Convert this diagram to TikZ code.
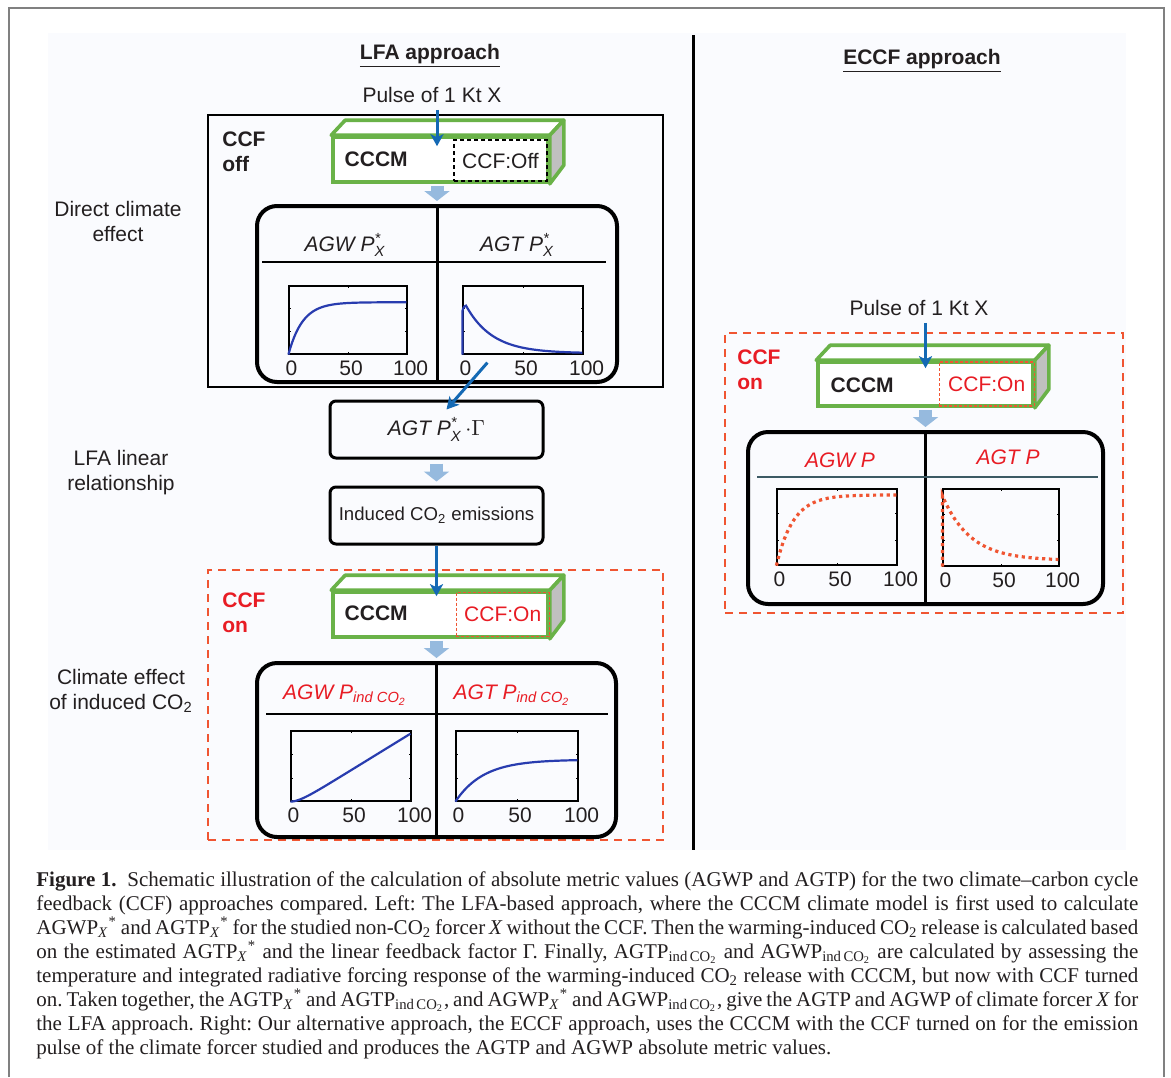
\documentclass[tikz,border=0pt]{standalone}
\usepackage{fontspec}
\setmainfont{Liberation Sans}
\newfontfamily\capfont{Liberation Serif}
\usepackage{amsmath}
\usetikzlibrary{shapes,arrows,arrows.meta,calc}

\definecolor{cccmgreen}{RGB}{106,178,72}
\definecolor{pulseblue}{RGB}{20,105,180}
\definecolor{flowblue}{RGB}{150,186,222}
\definecolor{ccfred}{RGB}{232,28,36}
\definecolor{dashred}{RGB}{240,85,50}
\definecolor{curveblue}{RGB}{40,60,175}
\definecolor{sidegray}{RGB}{192,192,192}
\definecolor{framegray}{RGB}{128,128,128}
\definecolor{bgpanel}{RGB}{250,251,254}
\definecolor{txt}{RGB}{35,31,32}
\definecolor{slate}{RGB}{60,90,100}

\tikzstyle{line} = [draw, pulseblue, line width=1.5pt, -{Stealth[length=6pt,width=6.5pt,inset=1.5pt]}]
\tikzstyle{flow} = [draw, flowblue, line width=6.5pt, -{Triangle[length=5pt,width=12.5pt]}]
\tikzstyle{cccm} = [rectangle, draw=cccmgreen, line width=1.8pt, fill=white, minimum width=107.5pt, minimum height=22.5pt, inner sep=0pt]
\tikzstyle{cccmtop} = [draw=cccmgreen, line width=1.8pt, fill=white, line join=round]
\tikzstyle{cccmside} = [draw=cccmgreen, line width=1.8pt, fill=sidegray, line join=round]
\tikzstyle{cccmtxt} = [font=\fontsize{10.5}{12.5}\selectfont\bfseries]
\tikzstyle{ccfoff} = [rectangle, draw, dash pattern=on 2pt off 1.5pt, line width=0.8pt, minimum width=46.5pt, minimum height=20.5pt, anchor=east]
\tikzstyle{ccfon} = [rectangle, draw=dashred, dash pattern=on 1.5pt off 1pt, line width=0.6pt, minimum width=46.5pt, minimum height=22pt, text=ccfred, anchor=east]
\tikzstyle{plots} = [rectangle, draw, line width=2pt, rounded corners=10pt, minimum width=180pt, minimum height=88pt]
\tikzstyle{frame} = [rectangle, draw, line width=0.6pt, minimum width=60pt, minimum height=34pt, inner sep=0pt]
\tikzstyle{stepbox} = [rectangle, draw, line width=1.5pt, rounded corners=3pt, minimum width=106.5pt, minimum height=28.5pt]
\tikzstyle{dashbox} = [rectangle, draw=dashred, line width=1.2pt, dash pattern=on 4pt off 3pt]
\tikzstyle{ccflbl} = [font=\fontsize{10.5}{12.5}\selectfont\bfseries, align=left, inner sep=0pt, anchor=west]
\tikzstyle{sidelbl} = [align=center]
\tikzstyle{title} = [font=\fontsize{10.5}{12.5}\selectfont\bfseries]
\tikzstyle{ptitle} = [font=\fontsize{10.5}{12.5}\selectfont\itshape]
\tikzstyle{tick} = [inner sep=0pt]
\tikzstyle{curve} = [curveblue, line width=1.1pt]
\tikzstyle{dotcurve} = [dashred, line width=1.6pt, dash pattern=on 1.6pt off 1.8pt]
\tikzstyle{caption} = [anchor=north west, text width=551pt, align=justify, inner sep=0pt, font=\capfont\fontsize{10.5}{12}\selectfont]

\begin{document}
\begin{tikzpicture}[x=0.5pt, y=-0.5pt, every node/.style={font=\fontsize{10.5}{12.5}\selectfont, text=txt}]
\useasboundingbox (0,0) rectangle (1171,1077);
\fill[bgpanel] (48,33) rectangle (1126,850);
\draw[framegray, line width=1.2pt] (9,1077) -- (9,8) -- (1164,8) -- (1164,1077);

\coordinate (divtop) at (693,35);
\coordinate (divbot) at (693,850);
\draw[line width=1.5pt] (divtop) -- (divbot);

\node[title] (lfa) at (430,56) {\underline{LFA approach}};
\node[title] (eccf) at (922,61) {\underline{ECCF approach}};

\node[sidelbl] (direct) at (118,221) {Direct climate\\effect};
\node[sidelbl] (linear) at (121,473) {LFA linear\\relationship};
\node[sidelbl] (indirect) at (121,691) {Climate effect\\of induced CO\textsubscript{2}};

\node (pulseA) at (432,95) {Pulse of 1 Kt X};
\node[rectangle, draw, line width=1pt, minimum width=227.5pt, minimum height=136pt] (offbox) at (435.5,251) {};
\node[ccflbl] (offlbl) at (222,152) {CCF\\off};
\node[cccm] (cccmA) at (440.5,159.5) {};
\draw[cccmtop] (cccmA.north west) -- ++(14,-15) -- ($(cccmA.north east)+(14,-15)$) -- (cccmA.north east) -- cycle;
\draw[cccmside] (cccmA.north east) -- ++(14,-15) -- ++(0,45) -- (cccmA.south east) -- cycle;
\node[cccmtxt] (cccmAtxt) at ($(cccmA.west)+(45,0)$) {CCCM};
\node[ccfoff] (ccfA) at ($(cccmA.east)+(-2,1)$) {CCF:Off};

\node[plots] (plotsA) at (437,294) {};
\draw[line width=1.5pt] (plotsA.north) -- (plotsA.south);
\draw[line width=0.7pt] ($(plotsA.north west)+(7,58)$) -- ($(plotsA.north east)+(-13,58)$);
\node[ptitle] (agwpAt) at (345,245) {AGW P$^{\textit{*}}_{\textit{X}}$};
\node[ptitle] (agtpAt) at (517,245) {AGT P$^{\textit{*}}_{\textit{X}}$};
\node[frame, minimum width=59pt] (agwpA) at (348,320) {};
\node[frame] (agtpA) at (523,320) {};

\node[stepbox] (gamma) at (436.5,429.5) {\itshape AGT P$^{\textit{*}}_{\textit{X}}\,{\cdot}\Gamma$};
\node[stepbox, below of=gamma, node distance=43pt] (induced) {\fontsize{9.3}{11}\selectfont Induced CO\textsubscript{2} emissions};

\node[dashbox, minimum width=227.5pt, minimum height=135pt] (onboxB) at (435.5,705) {};
\node[ccflbl, text=ccfred] (onlblB) at (222,613) {CCF\\on};
\node[cccm] (cccmB) at (440.5,614.5) {};
\draw[cccmtop] (cccmB.north west) -- ++(14,-15) -- ($(cccmB.north east)+(14,-15)$) -- (cccmB.north east) -- cycle;
\draw[cccmside] (cccmB.north east) -- ++(14,-15) -- ++(0,45) -- (cccmB.south east) -- cycle;
\node[cccmtxt] (cccmBtxt) at ($(cccmB.west)+(45,-1)$) {CCCM};
\node[ccfon] (ccfB) at (cccmB.east) {CCF:On};

\node[plots, minimum width=179.5pt, minimum height=87pt] (plotsB) at (436.5,750) {};
\draw[line width=1.5pt] (plotsB.north) -- (plotsB.south);
\draw[line width=0.7pt] ($(plotsB.north west)+(11,53)$) -- ($(plotsB.north east)+(-10,53)$);
\node[ptitle, text=ccfred] (agwpBt) at (345,695) {AGW P$_{\textit{ind CO}_{\textit{2}}}$};
\node[ptitle, text=ccfred] (agtpBt) at (512,695) {AGT P$_{\textit{ind CO}_{\textit{2}}}$};
\node[frame, minimum height=35pt] (agwpB) at (351,766) {};
\node[frame, minimum width=61pt, minimum height=35pt] (agtpB) at (517,766) {};

\node (pulseC) at (919,308) {Pulse of 1 Kt X};
\node[dashbox, minimum width=199pt, minimum height=140pt] (onboxC) at (924,473) {};
\node[ccflbl, text=ccfred] (onlblC) at (737,370) {CCF\\on};
\node[cccm, minimum height=22pt] (cccmC) at (925.5,384) {};
\draw[cccmtop] (cccmC.north west) -- ++(14,-15) -- ($(cccmC.north east)+(14,-15)$) -- (cccmC.north east) -- cycle;
\draw[cccmside] (cccmC.north east) -- ++(14,-15) -- ++(0,44) -- (cccmC.south east) -- cycle;
\node[cccmtxt] (cccmCtxt) at ($(cccmC.west)+(46,1)$) {CCCM};
\node[ccfon, minimum width=47.5pt] (ccfC) at (cccmC.east) {CCF:On};

\node[plots, minimum width=177.5pt, minimum height=86pt] (plotsC) at (925.5,518) {};
\draw[line width=1.5pt] (plotsC.north) -- (plotsC.south);
\draw[slate, line width=0.7pt] ($(plotsC.north west)+(11,47)$) -- ($(plotsC.north east)+(-7,47)$);
\node[ptitle, text=ccfred] (agwpCt) at (840,460) {AGW P};
\node[ptitle, text=ccfred] (agtpCt) at (1008,457) {AGT P};
\node[frame, minimum height=38pt] (agwpC) at (837,527) {};
\node[frame, minimum width=58pt, minimum height=38.5pt] (agtpC) at (1001,527.5) {};

\foreach \f in {agwpA,agtpA,agwpB,agtpB,agwpC,agtpC}{
  \draw[line width=0.4pt] (\f.north) -- ++(0,3) (\f.south) -- ++(0,-3)
    ($(\f.south west)!0.33!(\f.north west)$) -- ++(3,0) ($(\f.south west)!0.67!(\f.north west)$) -- ++(3,0)
    ($(\f.south east)!0.33!(\f.north east)$) -- ++(-3,0) ($(\f.south east)!0.67!(\f.north east)$) -- ++(-3,0);
  \foreach \t/\n in {0/a,50/b,100/c}
    \node[tick] (\f\n) at ($(\f.south west)!\t/100!(\f.south east)+(3,14)$) {\t};
}

\begin{scope}[shift={(agwpA.south west)}, x=0.59pt, y=34pt]
\draw[curve] plot[domain=0:100, samples=80, smooth] (\x,{0.77*(1-exp(-\x/12))});
\end{scope}
\begin{scope}[shift={(agtpA.south west)}, x=0.6pt, y=34pt]
\draw[curve] (0,0) -- (0,0.64) .. controls (1,0.71) and (2,0.72) .. (3,0.72) -- plot[domain=3:100, samples=60, smooth] (\x,{0.02+0.70*exp(-(\x-3)/22)});
\end{scope}
\begin{scope}[shift={(agwpB.south west)}, x=0.6pt, y=35pt]
\draw[curve] plot[domain=0:100, samples=60, smooth] (\x,{0.01054*(\x-8*(1-exp(-\x/8)))});
\end{scope}
\begin{scope}[shift={(agtpB.south west)}, x=0.61pt, y=35pt]
\draw[curve] plot[domain=0:100, samples=60, smooth] (\x,{0.6*(1-exp(-\x/23))});
\end{scope}
\begin{scope}[shift={(agwpC.south west)}, x=0.6pt, y=38pt]
\draw[dotcurve] plot[domain=0:100, samples=80, smooth] (\x,{0.93*(1-exp(-\x/14))});
\end{scope}
\begin{scope}[shift={(agtpC.south west)}, x=0.58pt, y=38.5pt]
\draw[dotcurve] (0,0) -- plot[domain=0:100, samples=80, smooth] (\x,{0.08+0.84*exp(-\x/24)});
\end{scope}

\draw[flow] ($(cccmA.south -| plotsA.north)+(0,2)$) -- ($(plotsA.north)+(0,-3)$);
\draw[flow] ($(gamma.south)+(0,4)$) -- ($(induced.north)+(0,-4)$);
\draw[flow] ($(cccmB.south -| plotsB.north)+(0,2)$) -- ($(plotsB.north)+(0,-3)$);
\draw[flow] ($(cccmC.south -| plotsC.north)+(0,2)$) -- ($(plotsC.north)+(0,-3)$);

\path[line] (pulseA.south -| plotsA.north) -- ($(cccmA.north -| plotsA.north)+(0,11)$);
\path[line] ($(agtpA.south west)+(25,8)$) -- ($(gamma.north)+(10,10)$);
\path[line] (induced.south) -- ($(cccmB.north -| induced.south)+(0,6)$);
\path[line] (pulseC.south -| cccmC.north) -- ($(cccmC.north)+(0,8)$);

\node[caption] (caption) at (36,871) {\frenchspacing\textbf{Figure 1.}\ \ Schematic illustration of the calculation of absolute metric values (AGWP and AGTP) for the two climate–carbon cycle\linebreak
feedback (CCF) approaches compared. Left: The LFA-based approach, where the CCCM climate model is first used to calculate\linebreak
AGWP\textsubscript{\textit{X}}\textsuperscript{*} and AGTP\textsubscript{\textit{X}}\textsuperscript{*} for the studied non-CO\textsubscript{2} forcer \textit{X} without the CCF. Then the warming-induced CO\textsubscript{2} release is calculated based\linebreak
on the estimated AGTP\textsubscript{\textit{X}}\textsuperscript{*} and the linear feedback factor Γ. Finally, AGTP\textsubscript{ind\,CO\textsubscript{2}} and AGWP\textsubscript{ind\,CO\textsubscript{2}} are calculated by assessing the\linebreak
temperature and integrated radiative forcing response of the warming-induced CO\textsubscript{2} release with CCCM, but now with CCF turned\linebreak
on. Taken together, the AGTP\textsubscript{\textit{X}}\textsuperscript{*} and AGTP\textsubscript{ind\,CO\textsubscript{2}}, and AGWP\textsubscript{\textit{X}}\textsuperscript{*} and AGWP\textsubscript{ind\,CO\textsubscript{2}}, give the AGTP and AGWP of climate forcer \textit{X} for\linebreak
the LFA approach. Right: Our alternative approach, the ECCF approach, uses the CCCM with the CCF turned on for the emission\linebreak
pulse of the climate forcer studied and produces the AGTP and AGWP absolute metric values.};
\end{tikzpicture}
\end{document}
